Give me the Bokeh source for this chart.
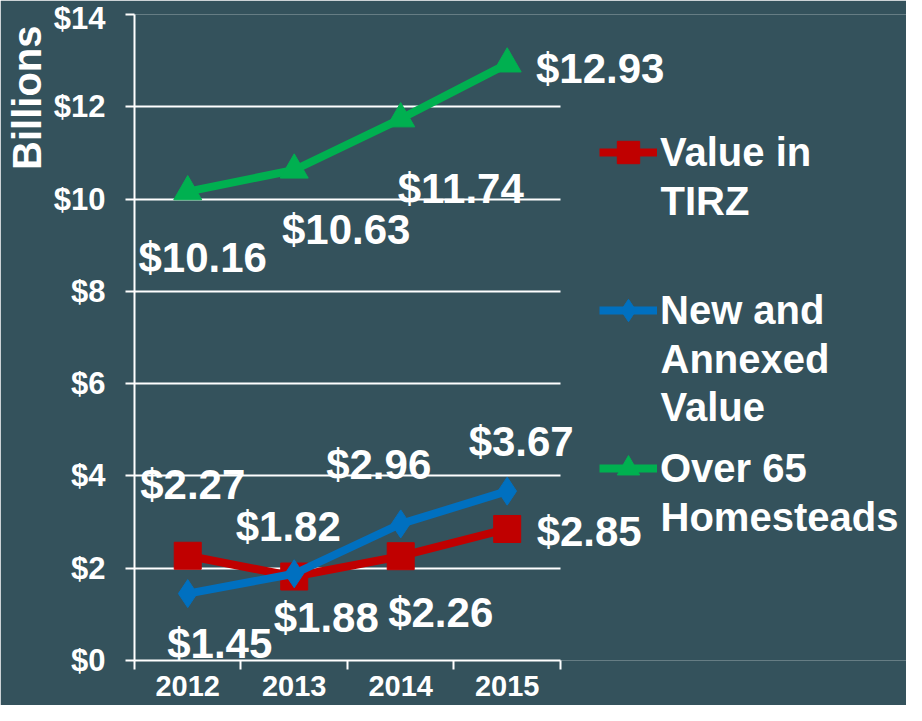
from bokeh.plotting import figure
from bokeh.models import (Range1d, FixedTicker, NumeralTickFormatter, Legend, LegendItem,
                          ColumnDataSource, LabelSet, Label, Title, Grid)
from bokeh.embed import file_html
from bokeh.resources import INLINE
from bokeh.core.properties import value

# ---- data ----
years = ["2012", "2013", "2014", "2015"]
tirz = [2.27, 1.82, 2.26, 2.85]
new_annexed = [1.45, 1.88, 2.96, 3.67]
over65 = [10.16, 10.63, 11.74, 12.93]
y_ticks = [0, 2, 4, 6, 8, 10, 12, 14]
series_names = ["Value in\nTIRZ", "New and\nAnnexed\nValue", "Over 65\nHomesteads"]
axis_title = "Billions"

# ---- style ----
BG = "#34525C"
FONT = "Liberation Sans"
RED, BLUE, GREEN = "#C00000", "#0070C0", "#00B050"

n = len(years)
xc = [i + 0.5 for i in range(n)]
bounds = list(range(n + 1))

p = figure(width=906, height=705, output_backend="svg", toolbar_location=None,
           x_range=Range1d(0, 7.25), y_range=Range1d(0, 14),
           min_border_left=134, min_border_top=14, min_border_right=0, min_border_bottom=45)
p.background_fill_color = BG
p.border_fill_color = BG
p.outline_line_color = None

# axes
p.xaxis.bounds = (0, n)
p.xaxis.ticker = FixedTicker(ticks=xc, minor_ticks=bounds)
p.xaxis.major_label_overrides = {x: y for x, y in zip(xc, years)}
p.xaxis.major_tick_line_color = None
p.xaxis.major_tick_out = 6
p.xaxis.minor_tick_line_color = "white"
p.xaxis.minor_tick_line_width = 2
p.xaxis.minor_tick_out = 9
p.xaxis.minor_tick_in = 0
p.xaxis.axis_line_color = "white"
p.xaxis.axis_line_width = 2
p.xaxis.major_label_text_color = "white"
p.xaxis.major_label_text_font = FONT
p.xaxis.major_label_text_font_style = "bold"
p.xaxis.major_label_text_font_size = "29px"
p.xaxis.major_label_standoff = 6

p.yaxis.ticker = FixedTicker(ticks=y_ticks)
p.yaxis.formatter = NumeralTickFormatter(format="$0")
p.yaxis.major_tick_line_color = "white"
p.yaxis.major_tick_line_width = 2
p.yaxis.major_tick_out = 9
p.yaxis.major_tick_in = 0
p.yaxis.minor_tick_line_color = None
p.yaxis.axis_line_color = "white"
p.yaxis.axis_line_width = 2
p.yaxis.major_label_text_color = "white"
p.yaxis.major_label_text_font = FONT
p.yaxis.major_label_text_font_style = "bold"
p.yaxis.major_label_text_font_size = "31px"
p.yaxis.major_label_standoff = 20

p.add_layout(Title(text=axis_title, align="right", offset=11, standoff=4,
                   text_color="white", text_font=FONT, text_font_style="bold",
                   text_font_size="40px"), "left")

p.xgrid.grid_line_color = None
if "cross_bounds" in Grid.properties():
    p.ygrid.cross_bounds = (0, n)
    p.ygrid.grid_line_color = "white"
    p.ygrid.grid_line_width = 2
else:
    p.ygrid.grid_line_color = None
    p.segment(x0=[0] * len(y_ticks), x1=[n] * len(y_ticks), y0=y_ticks, y1=y_ticks,
              line_color="white", line_width=2)

# series
r1l = p.line(xc, tirz, line_color=RED, line_width=8)
r1m = p.scatter(xc, tirz, marker="square", size=27, fill_color=RED, line_color=RED)
r2l = p.line(xc, new_annexed, line_color=BLUE, line_width=8)
r2m = p.scatter(xc, new_annexed, marker="diamond", size=28, fill_color=BLUE, line_color=BLUE)
r3l = p.line(xc, over65, line_color=GREEN, line_width=8)
r3m = p.scatter(xc, over65, marker="triangle", size=28, fill_color=GREEN, line_color=GREEN)

# data labels (offsets in screen px are styling; positive dy = below the point)
def labels(vals, dx, dy):
    src = ColumnDataSource(dict(x=xc, y=vals, t=["$%.2f" % v for v in vals],
                                dx=dx, dy=[-d for d in dy]))
    p.add_layout(LabelSet(x="x", y="y", text="t", source=src, x_offset="dx", y_offset="dy",
                          text_color="white", text_font=value(FONT), text_font_style="bold",
                          text_font_size="42px", text_align="center", text_baseline="middle"))

labels(tirz, [5, -6, 40, 82], [-71, -50, 56, 3])
labels(new_annexed, [32, 32, -22, 14], [50, 44, -59, -50])
labels(over65, [15, 52, 60, 93], [66, 59, 70, 5])

# legend: first line of each name beside its glyph, further lines set below it
split = [s.split("\n") for s in series_names]
legend = Legend(items=[LegendItem(label=split[0][0], renderers=[r1l, r1m]),
                       LegendItem(label=split[1][0], renderers=[r2l, r2m]),
                       LegendItem(label=split[2][0], renderers=[r3l, r3m])],
                location=(465, 164), padding=0, margin=0, spacing=102,
                glyph_width=58, glyph_height=56, label_height=48, label_standoff=3,
                label_text_font=FONT, label_text_font_style="bold",
                label_text_font_size="40px", label_text_color="white",
                background_fill_alpha=0, border_line_color=None)
p.add_layout(legend, "center")

PITCH, LINE = 158, 48
first_line_top = 660 - 164 - 3 * 56 - 2 * 102 + 28  # centre of first legend line (canvas px)
for i, parts in enumerate(split):
    for k, txt in enumerate(parts[1:], start=1):
        cy = first_line_top - 14 + PITCH * i + LINE * k
        p.add_layout(Label(x=526, y=646 - cy, x_units="screen", y_units="screen", text=txt,
                           text_color="white", text_font=FONT, text_font_style="bold",
                           text_font_size="40px", text_align="left", text_baseline="middle"))

open("out.html", "w").write(file_html(p, INLINE))
